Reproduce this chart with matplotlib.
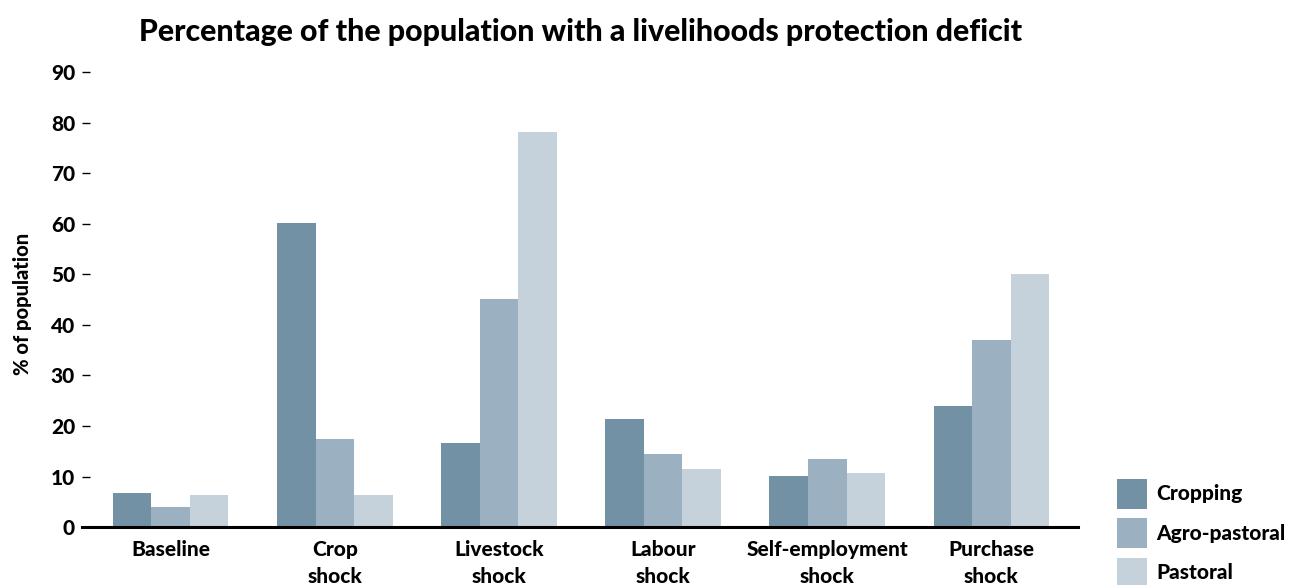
import numpy as np
import matplotlib
matplotlib.use('Agg')
import matplotlib.pyplot as plt

#------------------------------------------------------------------------------
# Data
#------------------------------------------------------------------------------
categories = ['Baseline', 'Crop\nshock', 'Livestock\nshock', 'Labour\nshock',
              'Self-employment\nshock', 'Purchase\nshock']
cropping      = [6.7, 60.1, 16.6, 21.4, 10.1, 23.9]
agro_pastoral = [4.0, 17.4, 45.1, 14.4, 13.4, 37.0]
pastoral      = [6.3,  6.3, 78.1, 11.5, 10.7, 50.0]
series_names  = ['Cropping', 'Agro-pastoral', 'Pastoral']
yticks        = [0, 10, 20, 30, 40, 50, 60, 70, 80, 90]

colors = ['#7391a5', '#9bb0c1', '#c5d2dc']

plt.rcParams['font.family'] = ['Lato', 'DejaVu Sans']
wt = 'black'

fig = plt.figure(figsize=(12.95, 5.85), dpi=100)
ax = fig.add_axes([0.0633, 0.099, 0.7695, 0.778])

x = np.arange(len(categories))
width = 0.235
for i, (vals, name) in enumerate(zip([cropping, agro_pastoral, pastoral], series_names)):
    ax.bar(x + (i - 1) * width, vals, width, color=colors[i], label=name, zorder=2)

ax.set_xlim(-0.54, len(categories) - 1 + 0.53)
ax.set_ylim(0, 90)
ax.set_yticks(yticks)
ax.set_xticks(x)
ax.set_xticklabels(categories, fontsize=15, fontweight=wt, linespacing=1.55)

for s in ['top', 'right', 'left']:
    ax.spines[s].set_visible(False)
ax.spines['bottom'].set_linewidth(2.2)
ax.spines['bottom'].set_color('black')

ax.tick_params(axis='y', direction='in', length=6, width=1, pad=5,
               labelsize=15, color='black')
ax.tick_params(axis='x', length=0, pad=9)
for lab in ax.get_yticklabels():
    lab.set_fontweight(wt)

ax.set_ylabel('% of population', fontsize=14.5, fontweight=wt)
ax.yaxis.set_label_coords(-0.05, 0.49)

ax.set_title('Percentage of the population with a livelihoods protection deficit',
             fontsize=21.8, fontweight=wt, pad=22)

fig.legend(loc='upper left', bbox_to_anchor=(0.8625, 0.182), frameon=False,
           prop=dict(size=15, weight=wt), handlelength=1.45, handleheight=1.85,
           labelspacing=0.45, handletextpad=0.45, borderpad=0, borderaxespad=0)

plt.savefig('out.png', dpi=100)
